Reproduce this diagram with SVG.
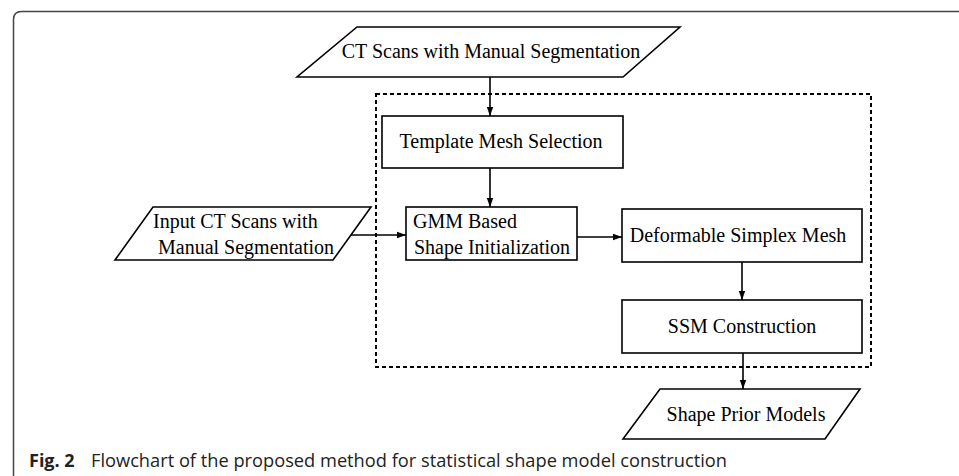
<svg xmlns="http://www.w3.org/2000/svg" width="959" height="476" viewBox="0 0 959 476">
<defs>
<marker id="ah" markerWidth="10" markerHeight="8" refX="9" refY="4" orient="auto" markerUnits="userSpaceOnUse">
<path d="M0,0.8 L9,4 L0,7.2 Z" fill="#000"/>
</marker>
<style>
.box{fill:#fff;stroke:#000;stroke-width:1.6}
.t{font-family:"Liberation Serif","Times New Roman",serif;font-size:20px;fill:#000}
.c{text-anchor:middle}
.conn{fill:none;stroke:#000;stroke-width:1.6;marker-end:url(#ah)}
.cap{font-family:"Open Sans","Noto Sans",sans-serif;font-size:18px;fill:#222}
</style>
</defs>
<rect width="959" height="476" fill="#fff"/>
<path d="M13.5,476 V19.5 Q13.5,11.5 21.5,11.5 H959" fill="none" stroke="#444" stroke-width="1.5"/>
<rect id="group-box" x="376" y="94" width="495" height="273" fill="none" stroke="#000" stroke-width="2" stroke-dasharray="4 3"/>
<g id="connectors">
<line class="conn" x1="490" y1="77" x2="490" y2="116"/>
<line class="conn" x1="490" y1="168" x2="490" y2="207"/>
<line class="conn" x1="351" y1="235" x2="406" y2="235"/>
<line class="conn" x1="577" y1="237" x2="622" y2="237"/>
<line class="conn" x1="742" y1="262" x2="742" y2="300"/>
<line class="conn" x1="743" y1="353" x2="743" y2="389"/>
</g>
<g id="ct-scans">
<polygon class="box" points="357,27 680,27 623,77 297,77"/>
<text class="t c" x="491" y="58">CT Scans with Manual Segmentation</text>
</g>
<g id="template-mesh">
<rect class="box" x="382" y="116" width="241" height="52"/>
<text class="t c" x="501" y="148">Template Mesh Selection</text>
</g>
<g id="input-ct">
<polygon class="box" points="153,207 371,207 333,260 115,260"/>
<text class="t" x="153" y="228">Input CT Scans with</text>
<text class="t" x="158" y="254">Manual Segmentation</text>
</g>
<g id="gmm">
<rect class="box" x="406" y="207" width="171" height="53"/>
<text class="t" x="413" y="228">GMM Based</text>
<text class="t" x="414" y="254">Shape Initialization</text>
</g>
<g id="deformable">
<rect class="box" x="622" y="209" width="240" height="53"/>
<text class="t c" x="738" y="242">Deformable Simplex Mesh</text>
</g>
<g id="ssm">
<rect class="box" x="622" y="300" width="240" height="53"/>
<text class="t c" x="742" y="333">SSM Construction</text>
</g>
<g id="shape-prior">
<polygon class="box" points="660,389 860,389 825,439 623,439"/>
<text class="t c" x="746" y="421">Shape Prior Models</text>
</g>
<text class="cap" x="29" y="467"><tspan font-weight="bold">Fig. 2</tspan><tspan x="91" textLength="636" lengthAdjust="spacingAndGlyphs">Flowchart of the proposed method for statistical shape model construction</tspan></text>
</svg>
